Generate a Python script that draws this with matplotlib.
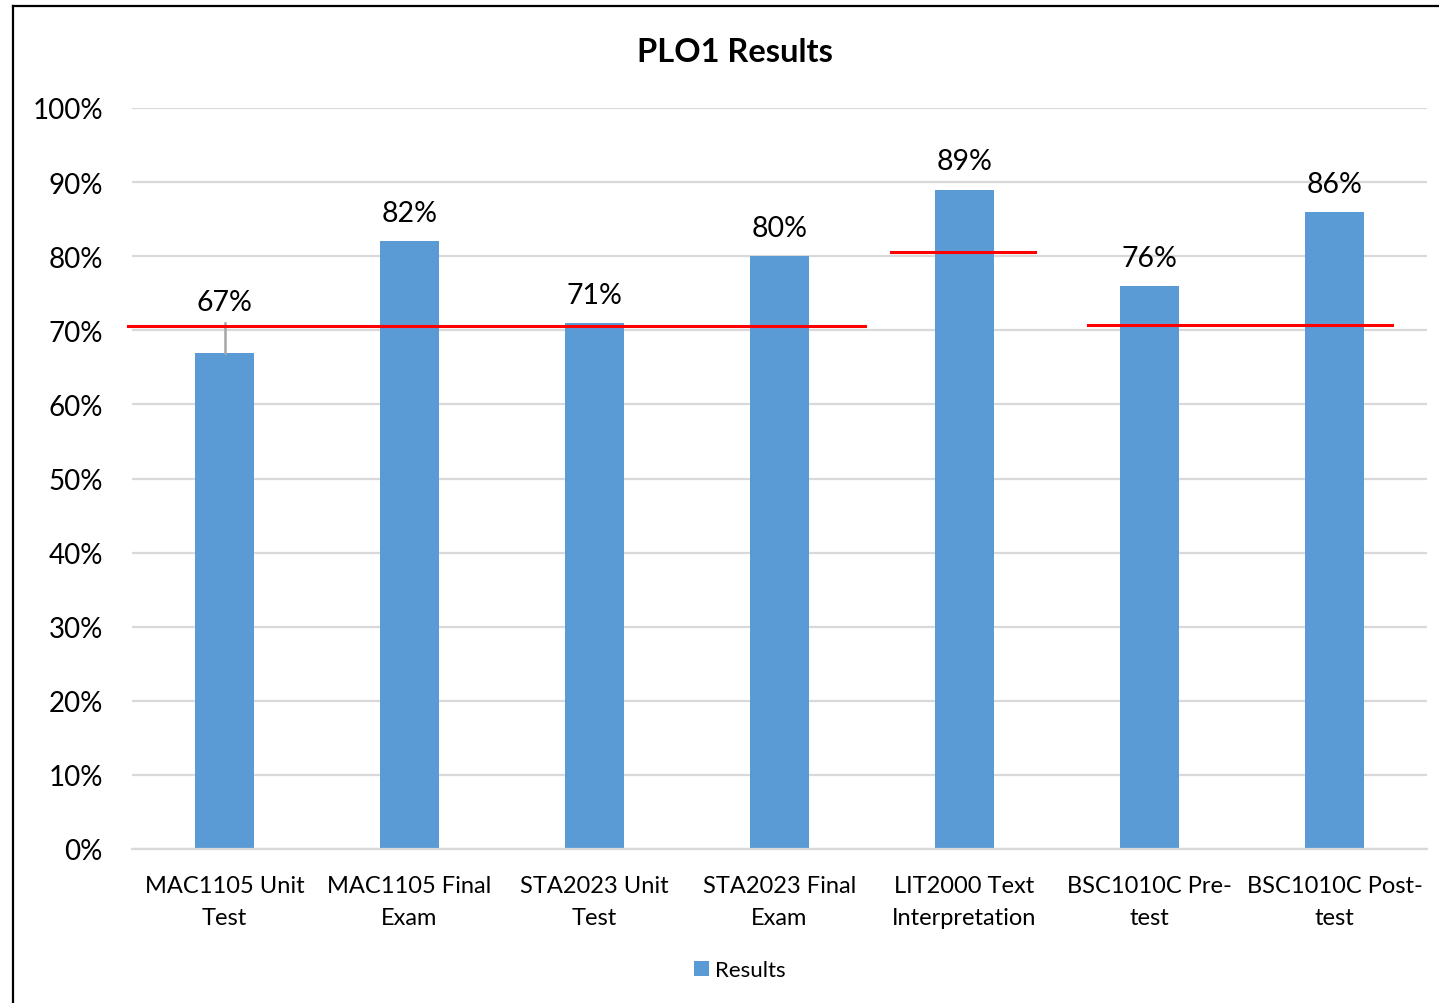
import matplotlib
matplotlib.use("Agg")
import matplotlib.pyplot as plt
from matplotlib.lines import Line2D
from matplotlib.ticker import FuncFormatter

plt.rcParams['font.family'] = ['Lato', 'DejaVu Sans']

categories = ["MAC1105 Unit\nTest", "MAC1105 Final\nExam", "STA2023 Unit\nTest",
              "STA2023 Final\nExam", "LIT2000 Text\nInterpretation", "BSC1010C Pre-\ntest",
              "BSC1010C Post-\ntest"]
results = [0.67, 0.82, 0.71, 0.80, 0.89, 0.76, 0.86]
value_labels = ["67%", "82%", "71%", "80%", "89%", "76%", "86%"]
y_ticks = [0, 0.1, 0.2, 0.3, 0.4, 0.5, 0.6, 0.7, 0.8, 0.9, 1.0]

# target (benchmark) lines: (x_start, x_end, level)
targets_start = [-0.52, 3.60, 4.67]
targets_end = [3.46, 4.38, 6.31]
targets_level = [0.706, 0.806, 0.707]

W, H = 1439, 1004
fig = plt.figure(figsize=(W / 100, H / 100), dpi=100)
ax = fig.add_axes([132 / W, 1 - 850 / H, (1427 - 132) / W, (850 - 109) / H])

x = list(range(len(categories)))
bar_color = "#5b9bd5"
ax.bar(x, results, width=0.315, color=bar_color, zorder=2, label="Results")

ax.set_xlim(-0.5, len(categories) - 0.5)
ax.set_ylim(0, 1.0)
ax.set_yticks(y_ticks)
ax.yaxis.set_major_formatter(FuncFormatter(lambda v, p: f"{v*100:.0f}%"))
ax.set_xticks(x)
ax.set_xticklabels(categories, fontsize=17, linespacing=1.65)
ax.tick_params(axis='y', length=0, pad=21, labelsize=20)
ax.tick_params(axis='x', length=0, pad=18.5)
ax.grid(axis='y', color='#d9d9d9', linewidth=1.6, zorder=0)
ax.set_axisbelow(True)
for s in ['top', 'right', 'left']:
    ax.spines[s].set_visible(False)
ax.spines['bottom'].set_color('#d9d9d9')
ax.spines['bottom'].set_linewidth(1.6)

# data labels
for i, (v, lab) in enumerate(zip(results, value_labels)):
    if i == 0:
        ypos = 0.738
        ax.plot([i, i], [v, 0.710], color='#a6a6a6', linewidth=1.8, zorder=3)
    else:
        ypos = v + 0.038
    ax.text(i, ypos, lab, ha='center', va='center', fontsize=20.5, color='black', zorder=4)

# target lines
for xs, xe, lv in zip(targets_start, targets_end, targets_level):
    ax.plot([xs, xe], [lv, lv], color='#ff0000', linewidth=2.2, zorder=5, clip_on=False)

fig.text(735 / W, 1 - 52 / H, "PLO1 Results", ha='center', va='center',
         fontsize=23.5, fontweight='bold')

leg = ax.legend(loc='center', bbox_to_anchor=((740 - 132) / (1427 - 132), (850 - 971) / (850 - 109)),
                frameon=False, fontsize=16, handlelength=0.65, handleheight=0.65,
                handletextpad=0.3, borderaxespad=0)

# chart border (left and top)
fig.add_artist(Line2D([13.5 / W, 13.5 / W], [0, 1 - 7 / H], color='black', linewidth=1.6,
                      transform=fig.transFigure))
fig.add_artist(Line2D([13.5 / W, 1], [1 - 7 / H, 1 - 7 / H], color='black', linewidth=1.6,
                      transform=fig.transFigure))

fig.savefig("out.png", dpi=100, facecolor='white')
